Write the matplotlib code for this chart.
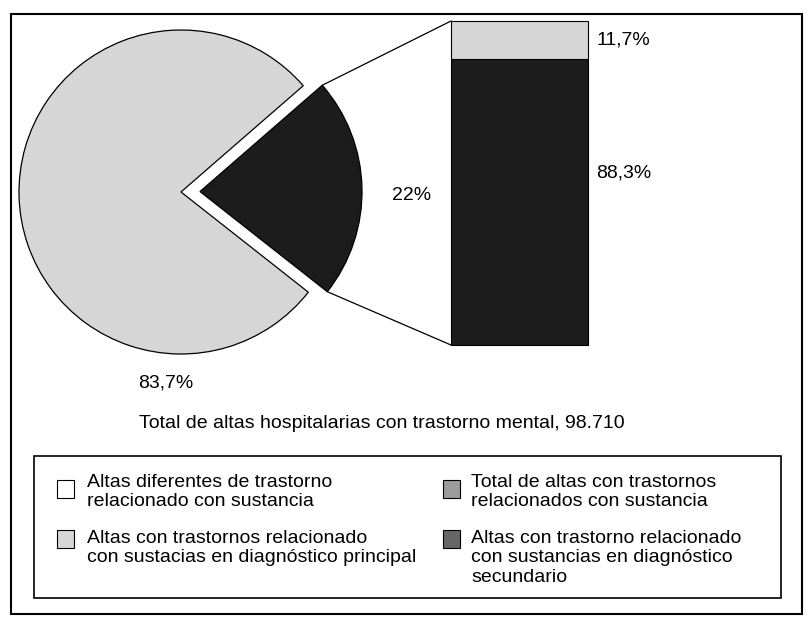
import matplotlib
matplotlib.use('Agg')
import matplotlib.pyplot as plt
import numpy as np
from matplotlib.patches import Rectangle, ConnectionPatch

plt.rcParams['font.family'] = ['Liberation Sans', 'DejaVu Sans']

# Data
pie_values = [22, 78]            # con sustancia (exploded), resto
pie_labels = ['22%', '83,7%']
bar_values = [88.3, 11.7]        # secundario, principal
bar_labels = ['88,3%', '11,7%']
total_text = 'Total de altas hospitalarias con trastorno mental, 98.710'
legend_labels = [
    'Altas diferentes de trastorno\nrelacionado con sustancia',
    'Altas con trastornos relacionado\ncon sustacias en diagnóstico principal',
    'Total de altas con trastornos\nrelacionados con sustancia',
    'Altas con trastorno relacionado\ncon sustancias en diagnóstico\nsecundario',
]
legend_colors = ['white', '#d6d6d6', '#9c9c9c', '#666666']

LIGHT = '#d6d6d6'
DARK = '#1c1c1c'
FS = 14

W, H = 809, 620


def Y(y):
    # pixel row (from top) -> data y
    return H - y


fig = plt.figure(figsize=(W / 100, H / 100), dpi=100)
ax = fig.add_axes([0, 0, 1, 1])

wedges, _ = ax.pie(pie_values, colors=[DARK, LIGHT], explode=[19, 0],
                   startangle=-38.2, radius=162, center=(181, Y(192)),
                   wedgeprops=dict(edgecolor='black', linewidth=0.9))
ax.set_xlim(0, W)
ax.set_ylim(0, H)
ax.axis('off')

ax.text(412, Y(195), pie_labels[0], ha='center', va='center', fontsize=FS)
ax.text(166, Y(383), pie_labels[1], ha='center', va='center', fontsize=FS)
ax.text(382, Y(423), total_text, ha='center', va='center', fontsize=FS)

# stacked bar
bax = fig.add_axes([451 / W, (H - 345) / H, 137 / W, 324 / H])
bottom = 0
for v, c in zip(bar_values, [DARK, LIGHT]):
    bax.bar(0, v, width=1, bottom=bottom, color=c, edgecolor='black',
            linewidth=0.8, clip_on=False)
    bottom += v
bax.set_xlim(-0.5, 0.5)
bax.set_ylim(0, sum(bar_values))
bax.axis('off')

bax.text(0.56, bar_values[0] * 0.6, bar_labels[0], ha='left', va='center', fontsize=FS)
bax.text(0.56, bar_values[0] + bar_values[1] / 2, bar_labels[1], ha='left',
         va='center', fontsize=FS)

# lines from wedge to bar
w = wedges[0]
for ang, yb in [(w.theta2, sum(bar_values)), (w.theta1, 0)]:
    xa = w.center[0] + w.r * np.cos(np.radians(ang))
    ya = w.center[1] + w.r * np.sin(np.radians(ang))
    con = ConnectionPatch(xyA=(-0.5, yb), coordsA=bax.transData,
                          xyB=(xa, ya), coordsB=ax.transData,
                          color='black', linewidth=0.9)
    fig.add_artist(con)

# frames
ax.add_patch(Rectangle((11, Y(614)), 791, 600, fill=False, lw=1.5, clip_on=False))
ax.add_patch(Rectangle((34, Y(598)), 747, 142, fill=False, lw=1.2, clip_on=False))

# legend
mx = [57, 443]
tx = [87, 471]
box_tops = [480, 530]
text_tops = [474, 530]
for i, (lab, col) in enumerate(zip(legend_labels, legend_colors)):
    c, r = i // 2, i % 2
    ax.add_patch(Rectangle((mx[c], Y(box_tops[r] + 18)), 17, 18, facecolor=col,
                           edgecolor='black', lw=0.8))
    ax.text(tx[c], Y(text_tops[r]), lab, ha='left', va='top', fontsize=FS,
            linespacing=1.18)

fig.savefig('out.png', dpi=100)
